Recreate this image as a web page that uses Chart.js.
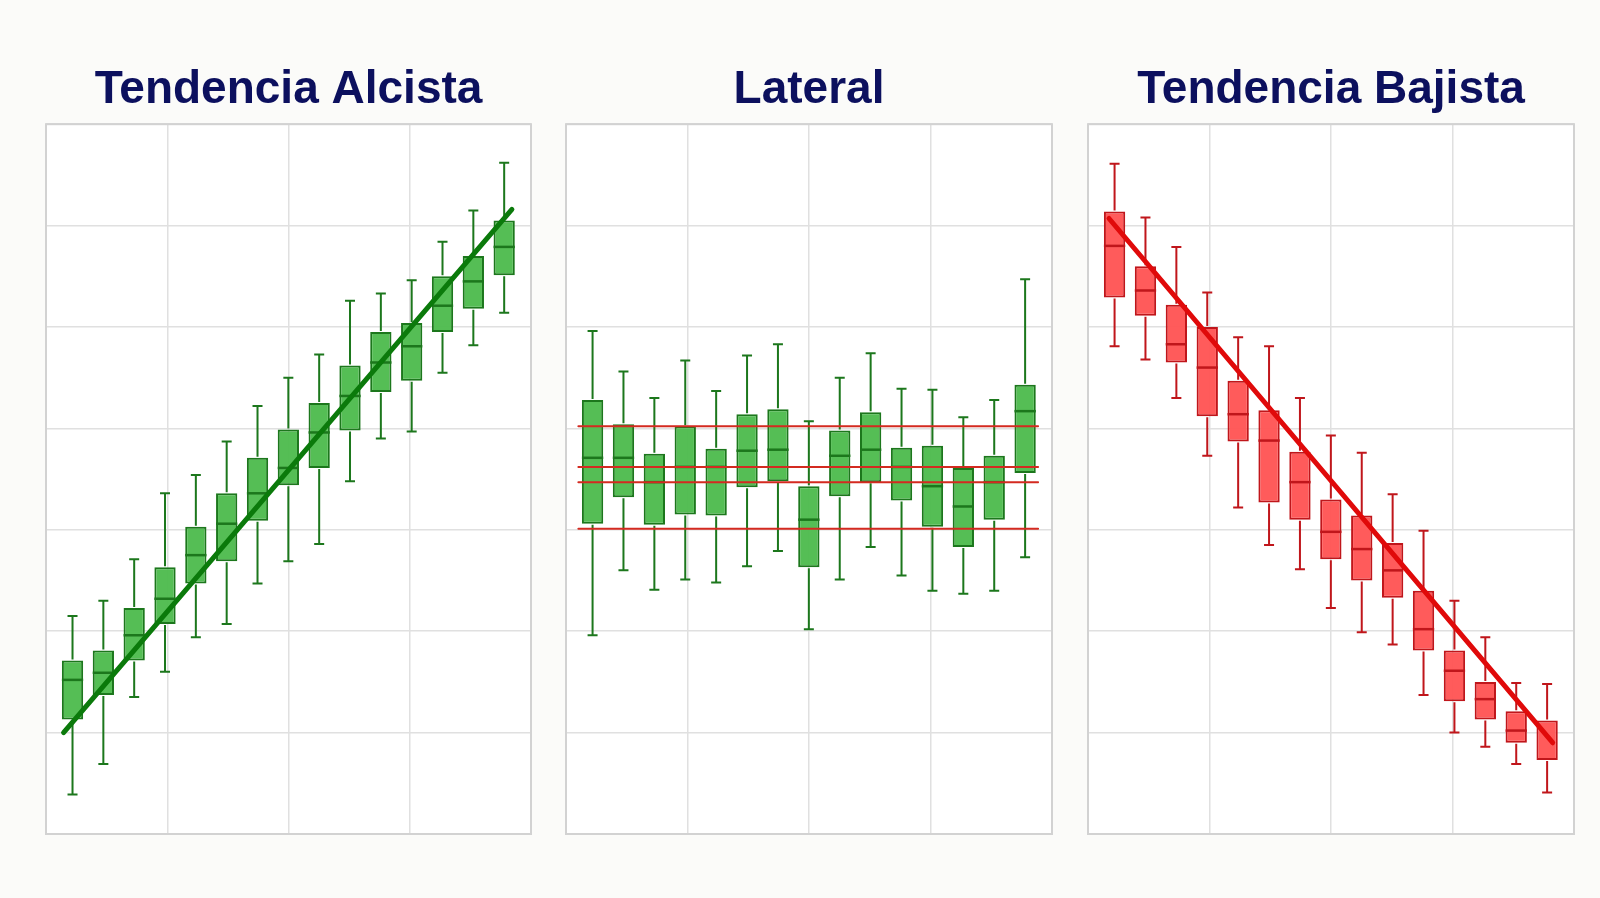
<!DOCTYPE html>
<html>
<head>
<meta charset="utf-8"/>
<title>Tendencias</title>
<script src="https://cdn.jsdelivr.net/npm/chart.js"></script>
<style>
  body { margin: 0; background: #fbfbf9; width: 1600px; height: 898px; overflow: hidden; position: relative; }
  canvas { position: absolute; top: 0; }
</style>
</head>
<body>
<canvas id="c1" width="505" height="898" style="left:36px"></canvas>
<canvas id="c2" width="506" height="898" style="left:556px"></canvas>
<canvas id="c3" width="506" height="898" style="left:1078px"></canvas>
<script>
// candle index (15 sessions per panel)
const sessions = [0, 1, 2, 3, 4, 5, 6, 7, 8, 9, 10, 11, 12, 13, 14];

// Tendencia alcista
const alcistaLow  = [3.9, 6.9, 13.5, 16.0, 19.4, 20.7, 24.7, 26.9, 28.6, 34.8, 39.0, 39.7, 45.5, 48.2, 51.4];
const alcistaQ1   = [11.3, 13.7, 17.1, 20.7, 24.7, 26.9, 30.9, 34.4, 36.1, 39.8, 43.6, 44.7, 49.5, 51.8, 55.1];
const alcistaMed  = [15.2, 15.9, 19.6, 23.2, 27.5, 30.6, 33.6, 36.1, 39.6, 43.2, 46.5, 48.1, 52.1, 54.5, 57.9];
const alcistaQ3   = [17.1, 18.1, 22.3, 26.3, 30.3, 33.6, 37.1, 39.9, 42.5, 46.2, 49.5, 50.4, 55.0, 57.0, 60.5];
const alcistaHigh = [21.5, 23.0, 27.1, 33.6, 35.4, 38.7, 42.2, 45.0, 47.3, 52.6, 53.3, 54.6, 58.4, 61.5, 66.2];
const alcistaTrend = [{x: -0.29, y: 10.0}, {x: 14.25, y: 61.6}];

// Lateral
const lateralLow  = [19.6, 26.0, 24.1, 25.1, 24.8, 26.4, 27.9, 20.2, 25.1, 28.3, 25.5, 24.0, 23.7, 24.0, 27.3];
const lateralQ1   = [30.6, 33.2, 30.5, 31.5, 31.4, 34.2, 34.8, 26.3, 33.3, 34.7, 32.9, 30.3, 28.3, 31.0, 35.6];
const lateralMed  = [37.1, 37.1, 34.7, 36.2, 36.2, 37.8, 37.9, 31.0, 37.3, 37.9, 36.2, 34.3, 32.3, 34.7, 41.7];
const lateralQ3   = [42.8, 40.4, 37.5, 40.2, 38.0, 41.4, 41.9, 34.3, 39.8, 41.6, 38.1, 38.3, 36.1, 37.3, 44.3];
const lateralHigh = [49.6, 45.6, 43.0, 46.7, 43.7, 47.2, 48.3, 40.7, 45.0, 47.4, 43.9, 43.8, 41.1, 42.8, 54.7];
const lateralLevels = [40.2, 36.2, 34.7, 30.1];
const levelSpan = [-0.46, 14.42];

// Tendencia bajista
const bajistaLow  = [48.1, 46.8, 43.0, 37.3, 32.2, 28.5, 26.1, 22.3, 19.9, 18.7, 13.7, 10.0, 8.6, 6.9, 4.1];
const bajistaQ1   = [52.9, 51.1, 46.5, 41.2, 38.7, 32.7, 31.0, 27.1, 25.0, 23.3, 18.1, 13.1, 11.3, 9.0, 7.3];
const bajistaMed  = [58.0, 53.6, 48.3, 46.0, 41.4, 38.8, 34.7, 29.8, 28.1, 26.0, 20.2, 16.1, 13.3, 10.2, null];
const bajistaQ3   = [61.4, 56.0, 52.2, 50.0, 44.7, 41.8, 37.7, 33.0, 31.4, 28.7, 24.0, 18.1, 15.0, 12.1, 11.2];
const bajistaHigh = [66.1, 60.8, 57.9, 53.4, 49.0, 48.1, 43.0, 39.3, 37.6, 33.5, 29.9, 23.0, 19.4, 14.9, 14.8];
const bajistaTrend = [{x: -0.18, y: 60.7}, {x: 14.18, y: 9.0}];

const X_MIN = -0.86, X_MAX = 14.87;

// white plot area + grey frame
const frame = {
  id: 'frame',
  beforeDraw(chart) {
    const a = chart.chartArea, ctx = chart.ctx;
    ctx.save();
    ctx.fillStyle = '#ffffff';
    ctx.fillRect(a.left, a.top, a.right - a.left, a.bottom - a.top);
    ctx.restore();
  },
  afterDraw(chart) {
    const a = chart.chartArea, ctx = chart.ctx;
    ctx.save();
    ctx.strokeStyle = '#d2d2d2';
    ctx.lineWidth = 2;
    ctx.strokeRect(a.left, a.top, a.right - a.left, a.bottom - a.top);
    ctx.restore();
  }
};

// whiskers and median lines on top of the boxes
const whiskers = {
  id: 'whiskers',
  afterDatasetDraw(chart, args) {
    const ds = chart.data.datasets[args.index];
    if (!ds.stats) return;
    const xs = chart.scales.x, ys = chart.scales.y, ctx = chart.ctx;
    const bars = chart.getDatasetMeta(args.index).data;
    const s = ds.stats;
    ctx.save();
    ctx.strokeStyle = ds.borderColor;
    ctx.lineCap = 'butt';
    s.low.forEach((lo, i) => {
      const px = xs.getPixelForValue(sessions[i]);
      const half = bars[i].width / 2;
      const cap = 5;
      const yHi = ys.getPixelForValue(s.high[i]), yQ3 = ys.getPixelForValue(s.q3[i]);
      const yQ1 = ys.getPixelForValue(s.q1[i]), yLo = ys.getPixelForValue(lo);
      ctx.lineWidth = 2;
      ctx.beginPath();
      ctx.moveTo(px, yHi); ctx.lineTo(px, yQ3 - 1);
      ctx.moveTo(px, yQ1 + 1); ctx.lineTo(px, yLo);
      ctx.moveTo(px - cap, yHi); ctx.lineTo(px + cap, yHi);
      ctx.moveTo(px - cap, yLo); ctx.lineTo(px + cap, yLo);
      ctx.stroke();
      if (s.med[i] !== null) {
        const ym = ys.getPixelForValue(s.med[i]);
        ctx.lineWidth = 2.5;
        ctx.beginPath();
        ctx.moveTo(px - half, ym); ctx.lineTo(px + half, ym);
        ctx.stroke();
      }
    });
    ctx.restore();
  }
};

function boxDataset(low, q1, med, q3, high, fill, edge) {
  return {
    type: 'bar',
    data: q1.map((v, i) => [v, q3[i]]),
    backgroundColor: fill,
    borderColor: edge,
    borderWidth: 2,
    borderSkipped: false,
    barPercentage: 0.69,
    categoryPercentage: 1,
    order: 2,
    stats: { low, q1, med, q3, high }
  };
}

function lineDataset(points, color, width) {
  return {
    type: 'line',
    data: points,
    borderColor: color,
    borderWidth: width,
    pointRadius: 0,
    borderCapStyle: 'round',
    fill: false,
    order: 0
  };
}

function panel(id, title, datasets) {
  return new Chart(document.getElementById(id), {
    type: 'bar',
    data: { labels: sessions, datasets },
    options: {
      responsive: false,
      animation: false,
      events: [],
      layout: { padding: { left: 10, right: 10, top: 0, bottom: 64 } },
      plugins: {
        legend: { display: false },
        tooltip: { enabled: false },
        title: {
          display: true,
          text: title,
          color: '#0c105e',
          font: { family: '"Liberation Sans", Arial, sans-serif', size: 46, weight: 'bold' },
          padding: { top: 63, bottom: 6 }
        }
      },
      scales: {
        x: {
          type: 'linear', min: X_MIN, max: X_MAX, offset: false,
          afterBuildTicks: axis => {
            axis.ticks = [0, 1, 2, 3, 4].map(k => ({ value: X_MIN + k * (X_MAX - X_MIN) / 4 }));
          },
          ticks: { display: false },
          border: { display: false },
          grid: { offset: false, color: '#e0e0e0', lineWidth: 1.5, drawTicks: false }
        },
        y: {
          type: 'linear', min: 0, max: 70, beginAtZero: false,
          ticks: { display: false, stepSize: 10 },
          border: { display: false },
          grid: { color: '#e0e0e0', lineWidth: 1.5, drawTicks: false }
        }
      }
    },
    plugins: [frame, whiskers]
  });
}

const green = 'rgba(76, 186, 76, 0.95)', greenEdge = '#1c771c';
const red = 'rgba(255, 82, 82, 0.95)', redEdge = '#c0161b';

panel('c1', 'Tendencia Alcista', [
  boxDataset(alcistaLow, alcistaQ1, alcistaMed, alcistaQ3, alcistaHigh, green, greenEdge),
  lineDataset(alcistaTrend, '#0b7a0b', 5)
]);

panel('c2', 'Lateral', [
  boxDataset(lateralLow, lateralQ1, lateralMed, lateralQ3, lateralHigh, green, greenEdge)
].concat(lateralLevels.map(v =>
  lineDataset([{ x: levelSpan[0], y: v }, { x: levelSpan[1], y: v }], '#d42a20', 2)
)));

panel('c3', 'Tendencia Bajista', [
  boxDataset(bajistaLow, bajistaQ1, bajistaMed, bajistaQ3, bajistaHigh, red, redEdge),
  lineDataset(bajistaTrend, '#e00a0a', 5)
]);
</script>
</body>
</html>
